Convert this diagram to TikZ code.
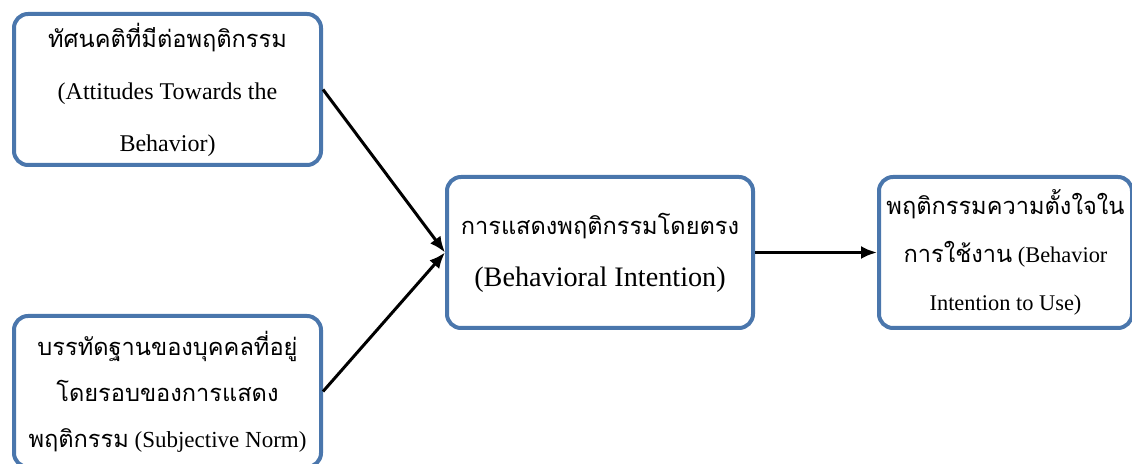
\documentclass[tikz,border=0pt]{standalone}
\usepackage{fontspec}
\setmainfont{Liberation Serif}
\newfontfamily\thaifont[Script=Thai]{Loma}
\newcommand\thai[1]{{\thaifont\fontsize{11.8pt}{\baselineskip}\selectfont #1}}
\usetikzlibrary{arrows.meta, positioning}
\definecolor{boxblue}{RGB}{74,118,172}

\begin{document}
\begin{tikzpicture}[
    x=0.5pt, y=-0.5pt,
    box/.style={rectangle, rounded corners=7pt, draw=boxblue, line width=2pt, align=center, minimum height=75.5pt, inner sep=2pt},
    side/.style={box, minimum width=153.5pt, font=\fontsize{12}{26}\selectfont},
    mid/.style={box, minimum width=153pt, font=\fontsize{14.1}{26}\selectfont},
    goal/.style={box, minimum width=126.5pt, font=\fontsize{11.2}{24}\selectfont},
    arrow/.style={-{Latex[length=8pt, width=6.5pt]}, line width=1.5pt}
]
    \useasboundingbox (0,0) rectangle (1132,464);

    % Attitude and norm
    \node[side] (att) at (167.5,89.5) {\thai{ทัศนคติที่มีต่อพฤติกรรม}\\(Attitudes Towards the\\Behavior)};
    \node[side, font=\fontsize{11.5}{23}\selectfont] (norm) at (167.5,391.5) {\thai{บรรทัดฐานของบุคคลที่อยู่}\\\thai{โดยรอบของการแสดง}\\\thai{พฤติกรรม} (Subjective Norm)};

    % Intention
    \node[mid] (bi) at (600,252.5) {\thai{การแสดงพฤติกรรมโดยตรง}\\(Behavioral Intention)};

    % Intention to use
    \node[goal, right=61pt of bi] (use) {\thai{พฤติกรรมความตั้งใจใน}\\\thai{การใช้งาน} (Behavior\\Intention to Use)};

    % Connections
    \draw[arrow] (att.east) -- (bi.west);
    \draw[arrow] (norm.east) -- (bi.west);
    \draw[arrow] (bi) -- (use);

\end{tikzpicture}
\end{document}
